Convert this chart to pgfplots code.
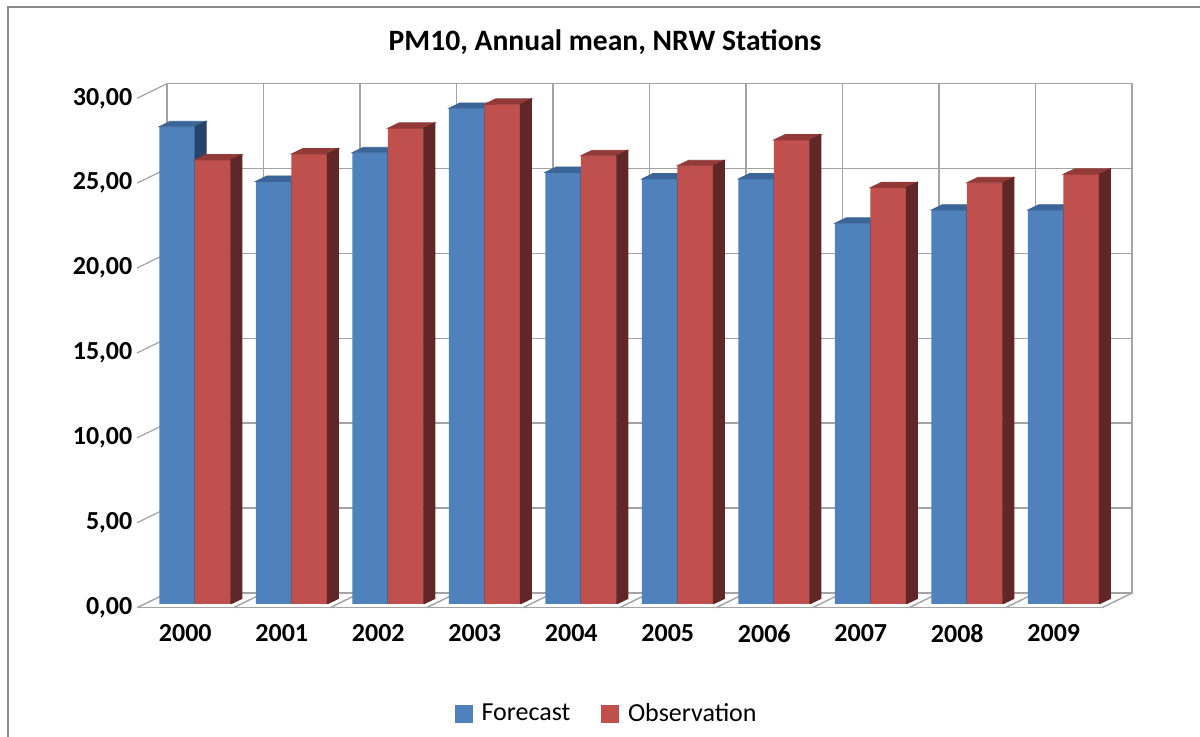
\documentclass[border=0pt]{standalone}
\usepackage{fontspec}
\setmainfont{Carlito}
\usepackage{pgfplots}
\usepackage{pgfplotstable}
\pgfplotsset{compat=1.18}
\definecolor{fcol}{HTML}{4F81BD}
\definecolor{ftop}{HTML}{3B6597}
\definecolor{fside}{HTML}{27436A}
\definecolor{ocol}{HTML}{C0504D}
\definecolor{otop}{HTML}{923A37}
\definecolor{oside}{HTML}{612726}
\definecolor{gridc}{HTML}{A3A3A3}
\definecolor{framec}{HTML}{8C8C8C}
\pgfdeclareplotmark{nothing}{}
\pgfplotstableread{
x F O
0 28.11 26.15
1 24.89 26.50
2 26.58 28.02
3 29.19 29.43
4 25.42 26.40
5 25.03 25.81
6 25.03 27.33
7 22.42 24.52
8 23.20 24.81
9 23.20 25.31
}\pmdata
\pgfplotsset{
  common/.style={scale only axis, width=482.5pt, height=254.7pt,
    xmin=-0.5, xmax=9.5, ymin=0, ymax=30, anchor=south west},
  faces/.style n args={3}{scatter, only marks, mark=nothing, forget plot,
    visualization depends on={\thisrow{#3} \as \val},
    scatter/@pre marker code/.code={%
      \fill[#1] (-17.85pt,0pt) -- (0pt,0pt) -- (5.6pt,2.7pt) -- (-12.25pt,2.7pt) -- cycle;
      \fill[#2] (0pt,0pt) -- (5.6pt,2.7pt) -- ({5.6pt},{(2.7-\val*8.49)*1pt}) -- ({0pt},{(-\val*8.49)*1pt}) -- cycle;
    },
    scatter/@post marker code/.code={}}
}
\begin{document}
\begin{tikzpicture}
\useasboundingbox (0,0) rectangle (600pt,368.5pt);
\fill[white] (0,0) rectangle (600pt,368.5pt);
\draw[framec, line width=0.75pt] (4pt,0pt) -- (4pt,365pt) -- (600pt,365pt);
\node[font=\fontsize{14.8}{17}\selectfont\bfseries] at (302.5pt,347.6pt) {PM10, Annual mean, NRW Stations};
% back wall
\begin{axis}[common, at={(83.5pt,71.95pt)},
  xtick={-0.5,0.5,...,9.5}, ytick={0,5,...,30},
  xticklabels={}, yticklabels={}, major tick length=0pt,
  grid=major, major grid style={gridc, line width=0.8pt},
  axis line style={gridc, line width=0.8pt}]
\end{axis}
% front plane: labels and floor
\begin{axis}[common, at={(68.5pt,64.65pt)}, clip=false,
  axis line style={draw=none}, major tick length=0pt,
  xtick={0,...,9}, xticklabels={2000,2001,2002,2003,2004,2005,2006,2007,2008,2009},
  ytick={0,5,...,30}, scaled y ticks=false,
  /pgf/number format/fixed, /pgf/number format/fixed zerofill,
  /pgf/number format/precision=2, /pgf/number format/use comma,
  /pgf/number format/assume math mode=true,
  yticklabel style={font=\fontsize{13}{15}\selectfont\bfseries, anchor=east, inner sep=0pt, xshift=-2.15pt},
  xticklabel style={font=\fontsize{13}{15}\selectfont\bfseries, anchor=center, inner sep=0pt, yshift=-12.9pt}]
\draw[gridc, line width=0.7pt] (axis cs:-0.5,0) -- (axis cs:9.5,0);
\pgfplotsinvokeforeach{-0.5,0.5,...,9.5}{\draw[gridc, line width=0.7pt] (axis cs:#1,0) -- ++(15pt,7.3pt);}
\pgfplotsinvokeforeach{5,10,...,30}{\draw[gridc, line width=0.6pt] (axis cs:-0.5,#1) -- ++(15pt,7.3pt);}
\end{axis}
% bars
\begin{axis}[common, width=492.15pt, xmax=9.7, at={(72.3pt,66.5pt)}, hide axis,
  clip marker paths=true,
  legend style={at={(0.4706,-0.216)}, anchor=center, draw=none, fill=none,
    legend columns=-1, font=\fontsize{13}{15}\selectfont,
    /tikz/every odd column/.append style={column sep=2.5pt},
    /tikz/every even column/.append style={column sep=13.5pt}}]
\addplot[ybar, bar width=0.37, bar shift=-0.163, fill=fcol, draw=none, forget plot] table[x=x, y=F] {\pmdata};
\addplot[faces={ftop}{fside}{F}] table[x expr=\thisrow{x}+0.022, y=F] {\pmdata};
\addplot[ybar, bar width=0.37, bar shift=0.207, fill=ocol, draw=none, forget plot] table[x=x, y=O] {\pmdata};
\addplot[faces={otop}{oside}{O}] table[x expr=\thisrow{x}+0.392, y=O] {\pmdata};
\addlegendimage{legend image code/.code={\fill[fcol] (0pt,-4.2pt) rectangle (8.4pt,4.2pt);}}
\addlegendentry{Forecast}
\addlegendimage{legend image code/.code={\fill[ocol] (0pt,-4.2pt) rectangle (8.4pt,4.2pt);}}
\addlegendentry{Observation}
\end{axis}
\end{tikzpicture}
\end{document}
